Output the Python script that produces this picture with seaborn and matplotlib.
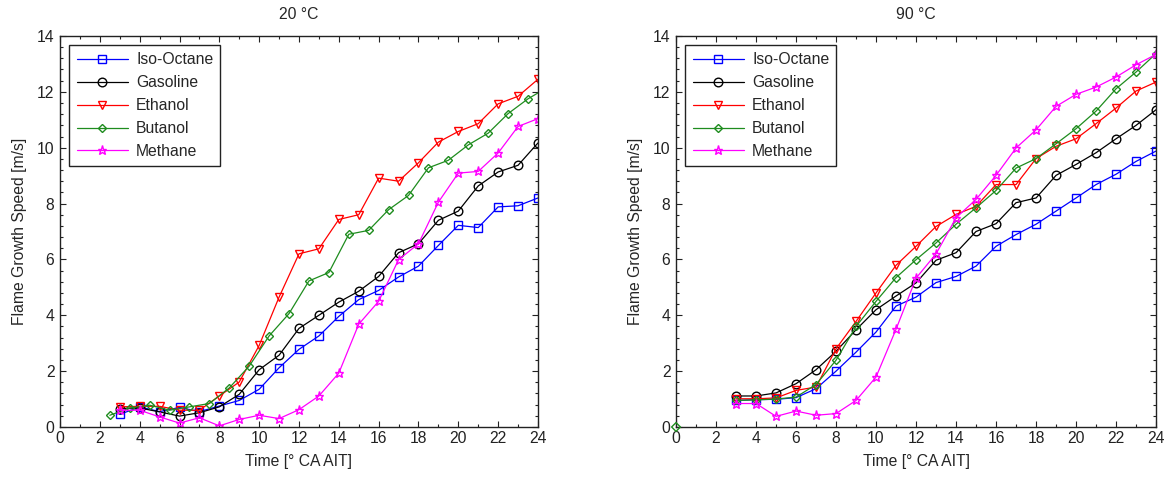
import numpy as np
import pandas as pd
import matplotlib
matplotlib.use("Agg")
import matplotlib.pyplot as plt
from matplotlib.ticker import MultipleLocator
import seaborn as sns

# ---------------- data ----------------
fuels = ["Iso-Octane", "Gasoline", "Ethanol", "Butanol", "Methane"]
titles = ["20 °C", "90 °C"]

t_int = list(range(3, 25))                       # 3 ... 24 °CA
t_half = [2.5 + k for k in range(23)]            # 2.5 ... 24.5 °CA

# 20 °C
iso_20 = [0.45, 0.72, 0.55, 0.70, 0.55, 0.75, 0.95, 1.35, 2.12, 2.78, 3.26, 3.96,
          4.56, 4.89, 5.37, 5.76, 6.50, 7.22, 7.14, 7.88, 7.92, 8.20]
gas_20 = [0.66, 0.68, 0.54, 0.39, 0.51, 0.72, 1.17, 2.05, 2.57, 3.53, 4.00, 4.47,
          4.86, 5.39, 6.24, 6.56, 7.40, 7.73, 8.63, 9.13, 9.37, 10.17]
eth_20 = [0.72, 0.74, 0.74, 0.60, 0.60, 1.11, 1.61, 2.92, 4.65, 6.20, 6.38, 7.43,
          7.60, 8.91, 8.80, 9.46, 10.20, 10.58, 10.86, 11.57, 11.84, 12.45]
but_20 = [0.42, 0.68, 0.78, 0.60, 0.72, 0.84, 1.40, 2.18, 3.26, 4.06, 5.23, 5.53,
          6.90, 7.04, 7.78, 8.29, 9.28, 9.55, 10.10, 10.52, 11.22, 11.75, 12.17]
met_20 = [0.60, 0.60, 0.36, 0.14, 0.33, 0.04, 0.27, 0.42, 0.30, 0.62, 1.11, 1.93,
          3.68, 4.50, 5.99, 6.56, 8.05, 9.09, 9.15, 9.81, 10.76, 11.04]

# 90 °C
iso_90 = [0.95, 0.98, 0.99, 1.05, 1.37, 2.00, 2.68, 3.40, 4.33, 4.65, 5.17, 5.39,
          5.76, 6.47, 6.89, 7.26, 7.73, 8.20, 8.68, 9.05, 9.51, 9.88]
gas_90 = [1.11, 1.11, 1.22, 1.55, 2.05, 2.71, 3.48, 4.20, 4.69, 5.16, 5.97, 6.24,
          7.00, 7.28, 8.03, 8.20, 9.01, 9.40, 9.82, 10.32, 10.80, 11.36]
eth_90 = [1.01, 1.01, 1.04, 1.31, 1.43, 2.80, 3.78, 4.80, 5.79, 6.47, 7.18, 7.61,
          7.90, 8.68, 8.68, 9.61, 10.05, 10.32, 10.86, 11.42, 12.03, 12.35]
but_90 = [0.95, 0.97, 1.00, 1.07, 1.52, 2.39, 3.60, 4.50, 5.35, 5.99, 6.59, 7.26,
          7.85, 8.47, 9.27, 9.61, 10.14, 10.68, 11.31, 12.11, 12.71, 13.37]
met_90 = [0.84, 0.84, 0.38, 0.57, 0.42, 0.48, 0.95, 1.79, 3.50, 5.33, 6.20, 7.49,
          8.15, 9.01, 9.99, 10.64, 11.48, 11.91, 12.17, 12.53, 12.97, 13.34]
but_90_start_t = [0.0]      # isolated first reading of butanol at 90 °C
but_90_start_v = [0.0]

series = [
    {"Iso-Octane": (t_int, iso_20), "Gasoline": (t_int, gas_20), "Ethanol": (t_int, eth_20),
     "Butanol": (t_half, but_20), "Methane": (t_int, met_20)},
    {"Iso-Octane": (t_int, iso_90), "Gasoline": (t_int, gas_90), "Ethanol": (t_int, eth_90),
     "Butanol": (t_int, but_90), "Methane": (t_int, met_90)},
]

# ---------------- style ----------------
colors = {"Iso-Octane": "#0000FF", "Gasoline": "#000000", "Ethanol": "#FF0000",
          "Butanol": "#1E8C1E", "Methane": "#FF00FF"}
markers = {"Iso-Octane": "s", "Gasoline": "o", "Ethanol": "v", "Butanol": "D", "Methane": "*"}
msizes = {"Iso-Octane": 6.3, "Gasoline": 6.2, "Ethanol": 6.2, "Butanol": 4.3, "Methane": 6.5}

sns.set_style("ticks")
FS = 11.3
plt.rcParams.update({
    "font.family": ["Liberation Sans", "DejaVu Sans"],
    "font.size": FS,
    "xtick.direction": "in", "ytick.direction": "in",
    "xtick.top": True, "ytick.right": True,
    "xtick.major.size": 4, "ytick.major.size": 4,
    "xtick.minor.size": 2.5, "ytick.minor.size": 2.5,
    "xtick.major.width": 0.8, "ytick.major.width": 0.8,
    "xtick.minor.width": 0.8, "ytick.minor.width": 0.8,
    "xtick.minor.top": True, "ytick.minor.right": True,
    "xtick.color": "#222222", "ytick.color": "#222222",
    "axes.edgecolor": "#222222", "axes.linewidth": 1.0,
    "xtick.labelsize": FS, "ytick.labelsize": FS,
    "xtick.major.pad": 3, "ytick.major.pad": 4,
})

fig = plt.figure(figsize=(11.7, 4.79), dpi=100)
axes = [fig.add_axes([0.0513, 0.1086, 0.4085, 0.8163]),
        fig.add_axes([0.5778, 0.1086, 0.4103, 0.8163])]

for ax, title, data in zip(axes, titles, series):
    for fuel in fuels:
        t, v = data[fuel]
        sns.lineplot(x=t, y=v, ax=ax, color=colors[fuel], marker=markers[fuel],
                     markersize=msizes[fuel], markerfacecolor="none",
                     markeredgecolor=colors[fuel], markeredgewidth=1.0,
                     linewidth=0.9, label=fuel, clip_on=True)
    ax.set_xlim(0, 24)
    ax.set_ylim(0, 14)
    ax.xaxis.set_major_locator(MultipleLocator(2))
    ax.xaxis.set_minor_locator(MultipleLocator(1))
    ax.yaxis.set_major_locator(MultipleLocator(2))
    ax.yaxis.set_minor_locator(MultipleLocator(0.4))
    ax.set_title(title, fontsize=FS, pad=12)
    ax.set_xlabel("Time [° CA AIT]", fontsize=FS, labelpad=6)
    ax.set_ylabel("Flame Growth Speed [m/s]", fontsize=FS, labelpad=7)
    for s in ax.spines.values():
        s.set_visible(True)
    leg = ax.legend(loc="upper left", frameon=True, fancybox=False, framealpha=1,
                    edgecolor="#222222", handlelength=3.3, borderpad=0.45,
                    labelspacing=0.5, handletextpad=0.5, borderaxespad=0.6,
                    fontsize=FS)
    leg.get_frame().set_linewidth(1.0)

# isolated butanol reading at the origin of the 90 °C panel
sns.scatterplot(x=but_90_start_t, y=but_90_start_v, ax=axes[1], marker="D", s=20,
                facecolor="none", edgecolor=colors["Butanol"], linewidth=1.0,
                clip_on=False, legend=False, zorder=5)

fig.savefig("out.png", dpi=100)
